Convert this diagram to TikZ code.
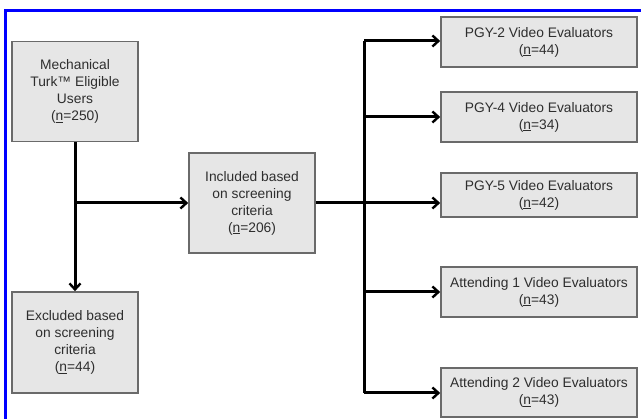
\documentclass[tikz,border=0pt]{standalone}
\usepackage{fontspec}
\setmainfont{Liberation Sans}
\usetikzlibrary{arrows.meta}
\definecolor{boxfill}{HTML}{E6E6E6}
\definecolor{boxline}{HTML}{6A6A6A}
\definecolor{txt}{HTML}{2E2E2E}
\tikzset{
  flowbox/.style={draw=boxline, fill=boxfill, line width=1.6pt, align=center,
    text=txt, inner sep=0pt, font=\fontsize{13.8}{17}\selectfont},
  leftbox/.style={flowbox, minimum width=126pt, minimum height=100pt},
  rightbox/.style={flowbox, minimum width=196pt, minimum height=50pt},
  conn/.style={line width=3pt, black},
  arr/.style={conn, -{Straight Barb[length=6pt,width=11pt,line width=2.4pt]}},
}
\newcommand{\nn}{\underline{n}}
\begin{document}
\begin{tikzpicture}[x=1pt,y=-1pt]
\useasboundingbox (0,0) rectangle (641,419);
\fill[white] (0,0) rectangle (641,419);
\draw[blue, line width=2.2pt] (5.5,419) -- (5.5,10.5) -- (641,10.5);

\node[leftbox] (mech) at (75,91.5) {Mechanical\\Turk™ Eligible\\Users\\(\nn=250)};
\node[leftbox] (inc) at (252,203) {Included based\\on screening\\criteria\\(\nn=206)};
\node[leftbox, minimum height=101pt] (exc) at (75,342.5) {Excluded based\\on screening\\criteria\\(\nn=44)};

\node[rightbox] (p2) at (539,42) {PGY-2 Video Evaluators\\(\nn=44)};
\node[rightbox] (p4) at (539,117) {PGY-4 Video Evaluators\\(\nn=34)};
\node[rightbox, minimum height=44pt] (p5) at (539,195) {PGY-5 Video Evaluators\\(\nn=42)};
\node[rightbox] (a1) at (539,292) {Attending 1 Video Evaluators\\(\nn=43)};
\node[rightbox, minimum height=49pt] (a2) at (539,392.5) {Attending 2 Video Evaluators\\(\nn=43)};

% left part
\draw[arr] (mech.south) -- (exc.north);
\coordinate (br) at (mech.south |- inc.west);
\draw[arr] (br) -- (inc.west);

% right part
\coordinate (t1) at (364,41);
\coordinate (t2) at (364,117);
\coordinate (t4) at (364,292);
\coordinate (t5) at (364,393);
\draw[conn] (t1) -- (t5);
\draw[arr] (inc.east) -- (p5.west |- inc.east);
\draw[arr] (t1) -- (p2.west |- t1);
\draw[arr] (t2) -- (p4.west);
\draw[arr] (t4) -- (a1.west);
\draw[arr] (t5) -- (a2.west |- t5);
\end{tikzpicture}
\end{document}
